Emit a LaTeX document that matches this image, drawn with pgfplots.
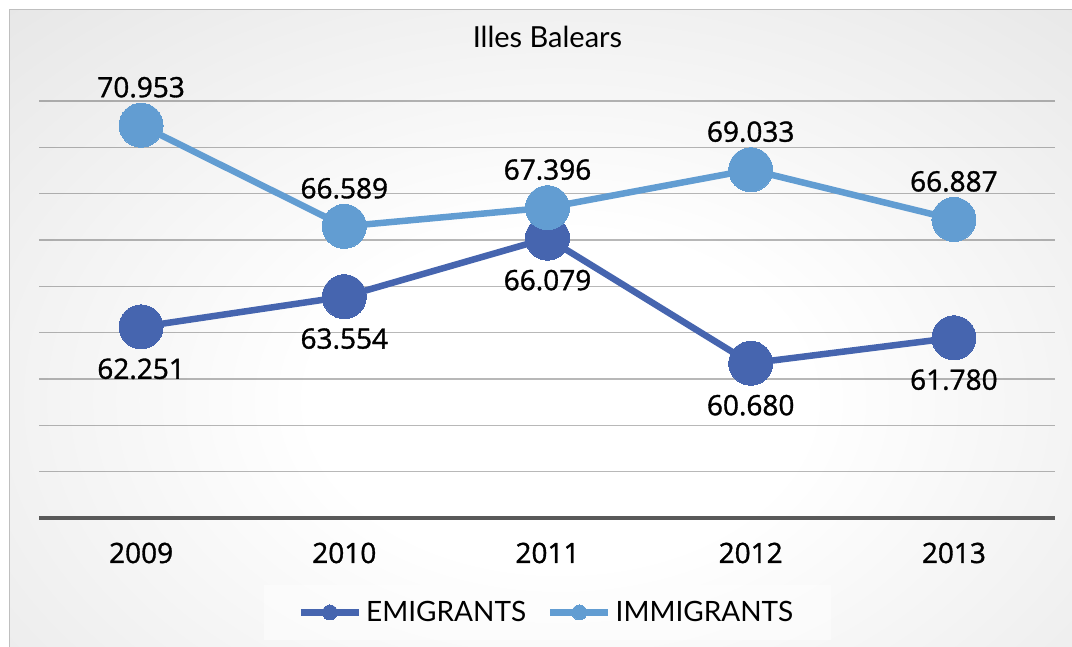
\documentclass[border=0pt]{standalone}
\usepackage{pgfplots}
\pgfplotsset{compat=1.18}
\usepackage{fontspec}
\setmainfont{Open Sans}
\newfontfamily\semifont[FakeBold=1.2]{Open Sans}
\newfontfamily\gillfont{Lato}
\definecolor{emi}{RGB}{70,101,175}
\definecolor{imm}{RGB}{98,157,210}
\definecolor{bgmid}{RGB}{212,212,212}
\definecolor{bgedge}{RGB}{196,196,196}
\definecolor{baseline}{RGB}{89,89,89}
\pgfdeclareradialshading{bgrad}{\pgfpoint{0bp}{0bp}}{color(0bp)=(white); color(10bp)=(white); color(50bp)=(bgmid); color(72bp)=(bgedge)}
\begin{document}
\begin{tikzpicture}
\useasboundingbox (0,0) rectangle (536pt,323.5pt);
\begin{scope}
\clip (4.5pt,0pt) rectangle (536pt,318.5pt);
\shade[shading=bgrad] (-30pt,-86.5pt) rectangle (590pt,333.5pt);
\end{scope}
\draw[black!25, line width=0.5pt] (4.5pt,0pt) -- (4.5pt,318.5pt) -- (536pt,318.5pt);
\begin{axis}[
  at={(19.75pt,64.5pt)}, anchor=south west,
  scale only axis, width=508pt, height=208.5pt,
  xmin=-0.5, xmax=4.5, ymin=54, ymax=72,
  clip=false,
  axis x line*=bottom, axis y line*=left,
  x axis line style={line width=1.75pt, color=baseline},
  y axis line style={draw=none},
  xtick={0,1,2,3,4},
  xticklabels={2009,2010,2011,2012,2013},
  major tick length=0pt,
  xticklabel style={anchor=base, yshift=-22.5pt, font=\semifont\fontsize{14pt}{14pt}\selectfont},
  ytick={54,56,...,72},
  yticklabels={},
  ymajorgrids,
  grid style={black, opacity=0.28, line width=0.75pt},
  title={Illes Balears},
  title style={at={(0.5,1)}, anchor=base, yshift=20.5pt, font=\gillfont\fontsize{14.5pt}{14.5pt}\selectfont},
  /pgf/number format/assume math mode=true,
  legend columns=2,
  legend style={at={(0.5,-0.2266)}, anchor=center, draw=none, fill=white, fill opacity=0.45, text opacity=1,
    font=\gillfont\fontsize{14pt}{14pt}\selectfont,
    inner xsep=17pt, inner ysep=6pt,
    /tikz/every even column/.append style={column sep=8.5pt}},
  legend image code/.code={\draw[mark repeat=2, mark phase=2, #1, mark size=3.75pt, fill opacity=1, draw opacity=1] plot coordinates {(0pt,0pt) (14.5pt,0pt) (29pt,0pt)};},
]
\addplot[color=emi, line width=3.25pt, mark=*, mark size=11pt, mark options={fill=emi, draw=emi, line width=0pt},
  nodes near coords={\pgfmathprintnumber[fixed,zerofill,precision=3]{\pgfplotspointmeta}},
  every node near coord/.style={anchor=center, yshift=-21pt, black, font=\semifont\fontsize{14pt}{14pt}\selectfont}]
  coordinates {(0,62.251) (1,63.554) (2,66.079) (3,60.680) (4,61.780)};
\addlegendentry{EMIGRANTS}
\addplot[color=imm, line width=3.25pt, mark=*, mark size=11pt, mark options={fill=imm, draw=imm, line width=0pt},
  nodes near coords={\pgfmathprintnumber[fixed,zerofill,precision=3]{\pgfplotspointmeta}},
  every node near coord/.style={anchor=center, yshift=19pt, black, font=\semifont\fontsize{14pt}{14pt}\selectfont}]
  coordinates {(0,70.953) (1,66.589) (2,67.396) (3,69.033) (4,66.887)};
\addlegendentry{IMMIGRANTS}
\end{axis}
\end{tikzpicture}
\end{document}
